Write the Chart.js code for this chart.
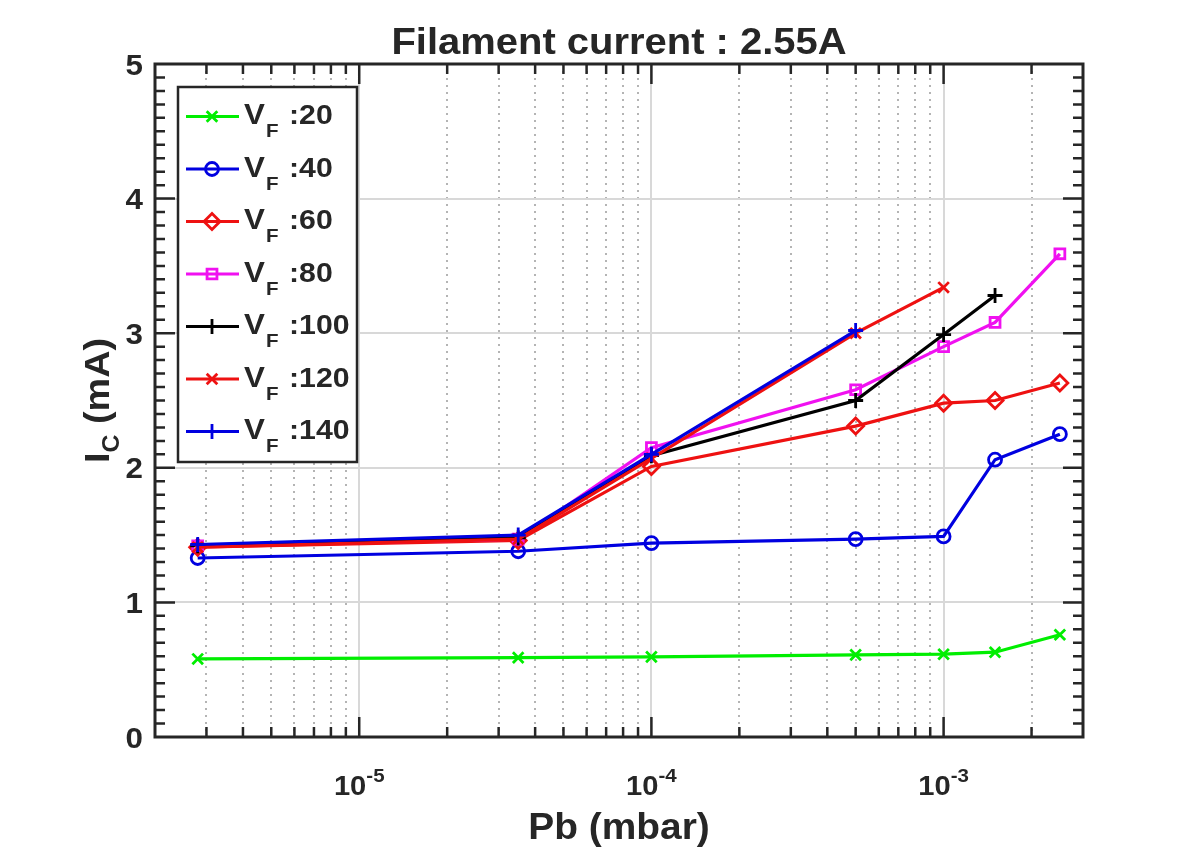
<!DOCTYPE html>
<html>
<head>
<meta charset="utf-8">
<script src="https://cdn.jsdelivr.net/npm/chart.js@4.4.0/dist/chart.umd.min.js"></script>
<style>
  html, body { margin: 0; padding: 0; background: #fff; }
  #wrap { width: 1196px; height: 854px; }
</style>
</head>
<body>
<div id="wrap"><canvas id="chart" width="1196" height="854"></canvas></div>
<script>
// pressure (mbar) and collector current (mA)
const pressure = [2.8e-6, 3.5e-5, 1e-4, 5e-4, 1e-3, 1.5e-3, 2.5e-3];
const vf20  = [0.58, 0.59, 0.595, 0.61, 0.615, 0.63, 0.76];
const vf40  = [1.33, 1.38, 1.44, 1.47, 1.49, 2.06, 2.25];
const vf60  = [1.41, 1.46, 2.01, 2.31, 2.48, 2.50, 2.63];
const vf80  = [1.42, 1.47, 2.15, 2.58, 2.90, 3.08, 3.59];
const vf100 = [1.42, 1.48, 2.09, 2.50, 2.99, 3.28];
const vf120 = [1.41, 1.47, 2.07, 3.00, 3.34];
const vf140 = [1.43, 1.50, 2.10, 3.02];

const seriesValues = [vf20, vf40, vf60, vf80, vf100, vf120, vf140];
const seriesNames = ['20', '40', '60', '80', '100', '120', '140'];
const seriesColors = ['#00ee00', '#0000e0', '#ee1111', '#f011f0', '#000000', '#ee1111', '#0000e0'];
const seriesMarkers = ['crossRot', 'circle', 'rectRot', 'rect', 'cross', 'crossRot', 'cross'];
const markerSizes = [7.5, 6.5, 8, 7, 7.5, 7.5, 7.5];

const xTickValues = [1e-5, 1e-4, 1e-3];
const xTickExp = ['-5', '-4', '-3'];
const yTickValues = [0, 1, 2, 3, 4, 5];

const titleText = 'Filament current : 2.55A';
const xTitle = 'Pb (mbar)';

const INK = '#262626';
const STRETCH = 1.08;
const FONT = '"Liberation Sans", Arial, Helvetica, sans-serif';

function putText(ctx, str, x, y, size, align) {
  ctx.save();
  ctx.font = 'bold ' + size + 'px ' + FONT;
  const w = ctx.measureText(str).width * STRETCH;
  let left = x;
  if (align === 'center') left = x - w / 2;
  else if (align === 'right') left = x - w;
  ctx.translate(left, y);
  ctx.scale(STRETCH, 1);
  ctx.textAlign = 'left';
  ctx.textBaseline = 'alphabetic';
  ctx.fillStyle = INK;
  ctx.fillText(str, 0, 0);
  ctx.restore();
  return w;
}

function textWidth(ctx, str, size) {
  ctx.save();
  ctx.font = 'bold ' + size + 'px ' + FONT;
  const w = ctx.measureText(str).width * STRETCH;
  ctx.restore();
  return w;
}

function marker(ctx, style, r, px, py, color) {
  ctx.save();
  ctx.strokeStyle = color;
  ctx.fillStyle = 'rgba(0,0,0,0)';
  ctx.lineWidth = 2.8;
  Chart.helpers.drawPoint(ctx, {pointStyle: style, radius: r, borderWidth: 2.8, rotation: 0}, px, py);
  ctx.restore();
}

const datasets = seriesValues.map((vals, i) => ({
  label: 'VF:' + seriesNames[i],
  data: vals.map((v, k) => ({x: pressure[k], y: v})),
  showLine: true,
  borderColor: seriesColors[i],
  backgroundColor: 'rgba(0,0,0,0)',
  borderWidth: 3.2,
  pointStyle: seriesMarkers[i],
  pointRadius: markerSizes[i],
  pointBorderWidth: 2.8,
  pointBorderColor: seriesColors[i],
  pointBackgroundColor: 'rgba(0,0,0,0)',
  tension: 0,
  order: 6 - i
}));

const matlabFrame = {
  id: 'matlabFrame',
  afterDraw(chart) {
    const {ctx, chartArea: a, scales: {x, y}} = chart;

    // inward ticks
    ctx.save();
    ctx.strokeStyle = INK;
    ctx.lineWidth = 2.5;
    ctx.beginPath();
    x.ticks.forEach(t => {
      const px = x.getPixelForValue(t.value);
      if (px <= a.left + 1 || px >= a.right - 1) return;
      const len = t.major ? 20 : 10;
      ctx.moveTo(px, a.bottom); ctx.lineTo(px, a.bottom - len);
      ctx.moveTo(px, a.top); ctx.lineTo(px, a.top + len);
    });
    for (let k = 1; k < 50; k++) {
      const py = y.getPixelForValue(k / 10);
      const len = k % 10 === 0 ? 20 : 10;
      ctx.moveTo(a.left, py); ctx.lineTo(a.left + len, py);
      ctx.moveTo(a.right, py); ctx.lineTo(a.right - len, py);
    }
    ctx.stroke();
    ctx.lineWidth = 3;
    ctx.strokeRect(a.left, a.top, a.right - a.left, a.bottom - a.top);
    ctx.restore();

    // y tick labels
    yTickValues.forEach(v => {
      putText(ctx, String(v), a.left - 12, y.getPixelForValue(v) + 10.5, 29, 'right');
    });

    // x tick labels 10^n
    xTickValues.forEach((v, i) => {
      const px = x.getPixelForValue(v);
      const wBase = textWidth(ctx, '10', 27);
      const wExp = textWidth(ctx, xTickExp[i], 19);
      const left = px - (wBase + wExp) / 2;
      putText(ctx, '10', left, a.bottom + 58, 27, 'left');
      putText(ctx, xTickExp[i], left + wBase, a.bottom + 45, 19, 'left');
    });

    // titles
    const cx = (a.left + a.right) / 2;
    putText(ctx, titleText, cx, a.top - 10, 37, 'center');
    putText(ctx, xTitle, cx, a.bottom + 102, 36, 'center');

    // y title I_C (mA)
    ctx.save();
    ctx.translate(a.left - 46, (a.top + a.bottom) / 2);
    ctx.rotate(-Math.PI / 2);
    const wI = textWidth(ctx, 'I', 35);
    const wC = textWidth(ctx, 'C', 23);
    const wRest = textWidth(ctx, ' (mA)', 35);
    let sx = -(wI + wC + wRest) / 2;
    putText(ctx, 'I', sx, 0, 35, 'left');
    putText(ctx, 'C', sx + wI, 10, 23, 'left');
    putText(ctx, ' (mA)', sx + wI + wC, 0, 35, 'left');
    ctx.restore();

    // legend
    const lx = a.left + 23, ly = a.top + 23, lw = 179, lh = 375;
    ctx.save();
    ctx.fillStyle = '#ffffff';
    ctx.fillRect(lx, ly, lw, lh);
    ctx.strokeStyle = INK;
    ctx.lineWidth = 2.5;
    ctx.strokeRect(lx, ly, lw, lh);
    ctx.restore();
    seriesNames.forEach((name, i) => {
      const ry = ly + 29.5 + i * 52.5;
      ctx.save();
      ctx.strokeStyle = seriesColors[i];
      ctx.lineWidth = 3.2;
      ctx.beginPath();
      ctx.moveTo(lx + 8, ry);
      ctx.lineTo(lx + 61, ry);
      ctx.stroke();
      ctx.restore();
      marker(ctx, seriesMarkers[i], markerSizes[i], lx + 34, ry, seriesColors[i]);
      const wV = putText(ctx, 'V', lx + 66, ry + 7.5, 29, 'left');
      putText(ctx, 'F', lx + 67 + wV, ry + 20.5, 19, 'left');
      putText(ctx, ':' + name, lx + 111, ry + 7.5, 28, 'left');
    });
  }
};

function buildLogTicks(scale) {
  const ticks = [];
  for (let e = -6; e <= -3; e++) {
    for (let m = 1; m <= 9; m++) {
      const v = m * Math.pow(10, e);
      if (v >= scale.min * 0.999 && v <= scale.max * 1.001) {
        ticks.push({value: v, major: m === 1});
      }
    }
  }
  scale.ticks = ticks;
}

new Chart(document.getElementById('chart'), {
  type: 'scatter',
  data: {datasets: datasets},
  options: {
    responsive: false,
    devicePixelRatio: 1,
    animation: false,
    layout: {padding: {left: 155, top: 64, right: 113, bottom: 117}},
    plugins: {
      legend: {display: false},
      tooltip: {enabled: false},
      title: {display: false}
    },
    scales: {
      x: {
        type: 'logarithmic',
        min: 2e-6,
        max: 3e-3,
        afterBuildTicks: buildLogTicks,
        ticks: {display: false},
        grid: {
          drawTicks: false,
          color: c => (c.tick && c.tick.major) ? '#d8d8d8' : '#b4b4b4',
          lineWidth: 2
        },
        border: {
          display: false,
          dash: c => (c.tick && !c.tick.major) ? [2, 5] : []
        }
      },
      y: {
        min: 0,
        max: 5,
        ticks: {display: false, stepSize: 1},
        grid: {drawTicks: false, color: '#d8d8d8', lineWidth: 2},
        border: {display: false}
      }
    }
  },
  plugins: [matlabFrame]
});
</script>
</body>
</html>
